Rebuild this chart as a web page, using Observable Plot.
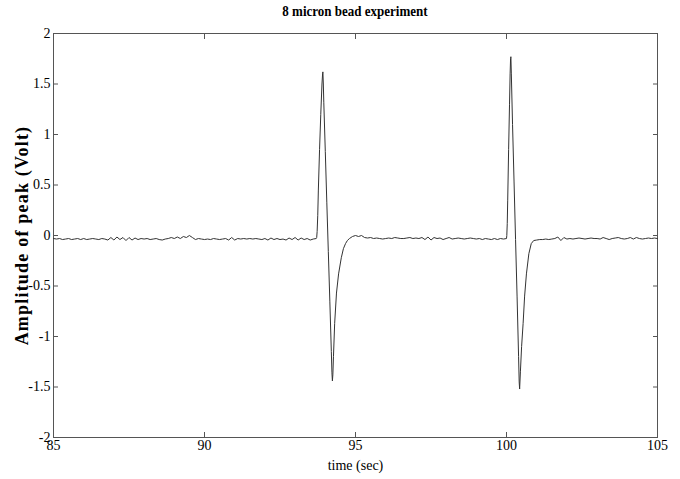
<!DOCTYPE html>
<html><head><meta charset="utf-8">
<script src="https://cdn.jsdelivr.net/npm/d3@7"></script>
<script src="https://cdn.jsdelivr.net/npm/@observablehq/plot@0.6"></script>
<style>
body{margin:0;background:#fff;}
#title{height:22px;width:680px;position:relative;font:bold 13px "Liberation Serif",serif;color:#000;}
#title span{position:absolute;left:355px;top:3px;transform:translateX(-50%) scaleY(1.15);white-space:nowrap;}
</style></head><body>
<div id="title"><span>8 micron bead experiment</span></div>
<div id="chart"></div>
<script>
const titleText = "8 micron bead experiment";
const xLabel = "time (sec)";
const yLabel = "Amplitude of peak (Volt)";
const xTicks = [85, 90, 95, 100, 105];
const yTicks = [-2, -1.5, -1, -0.5, 0, 0.5, 1, 1.5, 2];

// baseline samples every 0.1 s
const sampleStep = 0.1;
const baseline1Start = 85.0;
const baseline1 = [
  -0.03,-0.035,-0.03,-0.04,-0.035,-0.03,-0.04,-0.035,-0.03,-0.04,
  -0.03,-0.04,-0.035,-0.03,-0.035,-0.04,-0.03,-0.035,-0.045,-0.02,
  -0.045,-0.015,-0.04,-0.02,-0.05,-0.02,-0.045,-0.025,-0.04,-0.03,
  -0.035,-0.03,-0.04,-0.035,-0.03,-0.04,-0.045,-0.035,-0.03,-0.02,
  -0.03,-0.015,-0.03,-0.01,-0.02,0.0,-0.02,-0.04,-0.03,-0.035,
  -0.04,-0.035,-0.04,-0.03,-0.035,-0.04,-0.035,-0.03,-0.045,-0.02,
  -0.045,-0.03,-0.035,-0.03,-0.035,-0.03,-0.035,-0.03,-0.035,-0.04,
  -0.03,-0.045,-0.025,-0.04,-0.03,-0.04,-0.035,-0.045,-0.025,-0.04,
  -0.02,-0.045,-0.025,-0.04,-0.03,-0.045,-0.035,-0.03
];
const peak1Time = [93.715,93.73,93.75,93.77,93.81,93.85,93.89,93.91,93.92,93.935,93.95,94.0,94.05,94.1,94.15,94.2,94.22,94.235,94.25,94.27,94.31,94.37,94.44,94.53,94.6,94.67,94.73];
const peak1Volt = [-0.02,0.04,0.2,0.45,0.85,1.2,1.5,1.6,1.62,1.5,1.32,0.83,0.33,-0.16,-0.65,-1.15,-1.36,-1.44,-1.38,-1.2,-0.87,-0.57,-0.38,-0.22,-0.13,-0.08,-0.05];
const baseline2Start = 94.8;
const baseline2 = [
  -0.03,-0.01,
  0.0,-0.01,0.0,-0.02,-0.025,-0.02,-0.03,-0.025,-0.03,-0.035,
  -0.03,-0.025,-0.03,-0.02,-0.025,-0.03,-0.03,-0.025,-0.02,-0.03,
  -0.025,-0.03,-0.02,-0.04,-0.015,-0.045,-0.02,-0.03,-0.025,-0.04,
  -0.03,-0.02,-0.035,-0.03,-0.025,-0.03,-0.035,-0.03,-0.025,-0.03,
  -0.035,-0.03,-0.04,-0.03,-0.035,-0.04,-0.03,-0.04,-0.03,-0.035,
  -0.03
];
const peak2Time = [100.01,100.025,100.04,100.07,100.1,100.12,100.135,100.145,100.16,100.2,100.25,100.3,100.35,100.4,100.42,100.435,100.46,100.5,100.55,100.6,100.66,100.74,100.82];
const peak2Volt = [0.0,0.12,0.35,0.85,1.3,1.6,1.75,1.77,1.6,1.1,0.53,-0.04,-0.6,-1.2,-1.45,-1.52,-1.35,-1.1,-0.87,-0.6,-0.38,-0.18,-0.08];
const baseline3Start = 100.9;
const baseline3 = [
  -0.05,
  -0.045,-0.04,-0.04,-0.035,-0.04,-0.035,-0.03,-0.015,-0.05,-0.02,
  -0.035,-0.03,-0.035,-0.03,-0.025,-0.03,-0.035,-0.03,-0.025,-0.03,
  -0.03,-0.035,-0.02,-0.03,-0.04,-0.03,-0.025,-0.02,-0.03,-0.035,
  -0.03,-0.02,-0.035,-0.02,-0.03,-0.035,-0.03,-0.025,-0.03,-0.025,
  -0.03
];

const rows = [];
const addBase = (start, vals) => vals.forEach((v, i) => rows.push({t: +(start + i * sampleStep).toFixed(2), v}));
const addPeak = (ts, vs) => ts.forEach((t, i) => rows.push({t, v: vs[i]}));
addBase(baseline1Start, baseline1);
addPeak(peak1Time, peak1Volt);
addBase(baseline2Start, baseline2);
addPeak(peak2Time, peak2Volt);
addBase(baseline3Start, baseline3);

const fmt = d => String(d);
const axisColor = "#555";
const chart = Plot.plot({
  width: 680, height: 457,
  marginTop: 11, marginBottom: 42, marginLeft: 53, marginRight: 23,
  style: {fontFamily: '"Liberation Serif", serif', fontSize: "13px", color: "#000", background: "#fff"},
  x: {domain: [85, 105]},
  y: {domain: [-2, 2]},
  marks: [
    Plot.axisX(xTicks, {anchor: "bottom", tickSize: 5, dy: -5, tickFormat: () => "", label: null, stroke: axisColor}),
    Plot.axisX(xTicks, {anchor: "top", tickSize: 5, dy: 5, tickFormat: () => "", label: null, stroke: axisColor}),
    Plot.axisY(yTicks, {anchor: "left", tickSize: 5, dx: 5, tickFormat: () => "", label: null, stroke: axisColor}),
    Plot.axisY(yTicks, {anchor: "right", tickSize: 5, dx: -5, tickFormat: () => "", label: null, stroke: axisColor}),
    Plot.axisX(xTicks, {anchor: "bottom", tickSize: 0, tickPadding: 3, tickFormat: fmt, label: null, fontSize: 14}),
    Plot.axisY(yTicks, {anchor: "left", tickSize: 0, tickPadding: 3, tickFormat: fmt, label: null, fontSize: 14}),
    Plot.frame({stroke: axisColor}),
    Plot.line(rows, {x: "t", y: "v", stroke: "#333", strokeWidth: 1}),
    Plot.text([xLabel], {frameAnchor: "bottom", dy: 32, fontSize: 14, textAnchor: "middle"}),
    Plot.text([yLabel], {frameAnchor: "left", dx: -31, rotate: -90, fontWeight: "bold", fontSize: 18, textAnchor: "middle"})
  ]
});
document.getElementById("chart").appendChild(chart);
d3.select(chart).selectAll("text").filter(function() { return this.textContent === yLabel; }).attr("letter-spacing", "1.2px");
</script>
</body></html>
